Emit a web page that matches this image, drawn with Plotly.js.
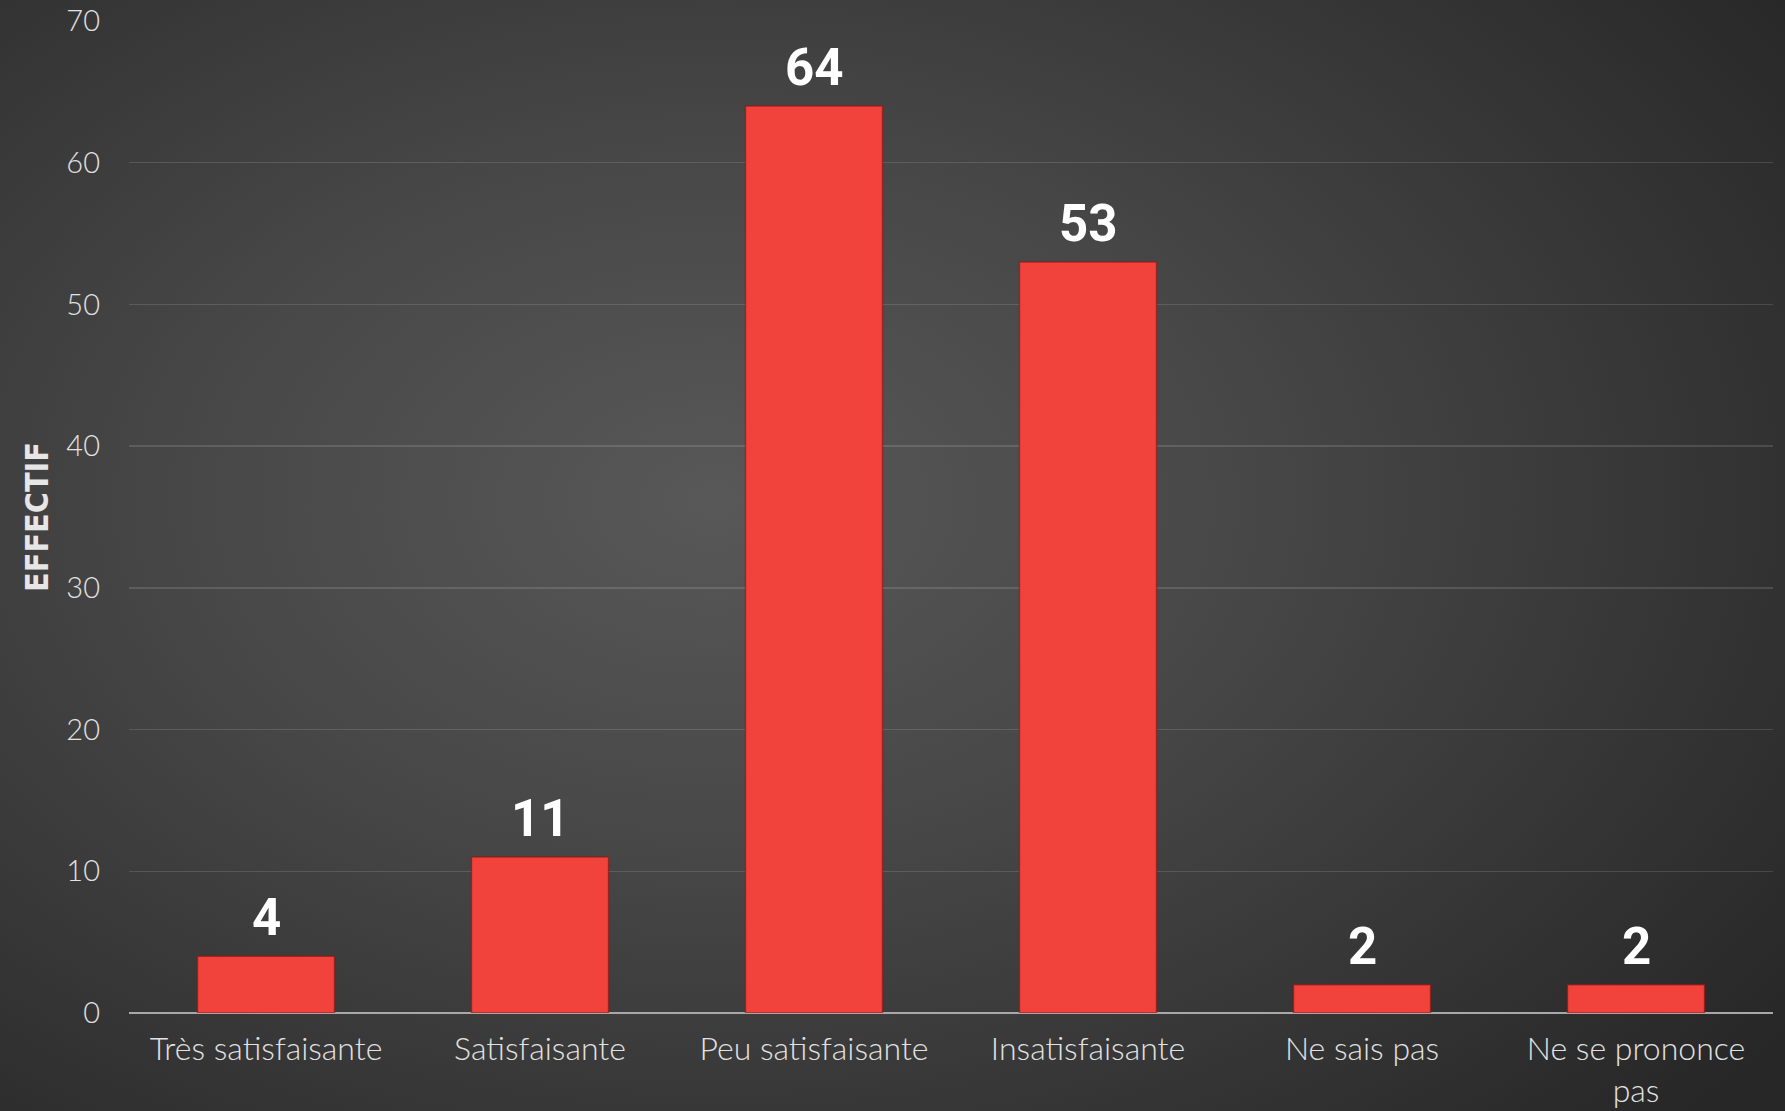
<!DOCTYPE html>
<html>
<head>
<meta charset="utf-8">
<script src="https://cdn.plot.ly/plotly-3.0.1.min.js"></script>
<style>
  html, body { margin: 0; padding: 0; }
  body {
    width: 1785px; height: 1111px; overflow: hidden;
    background: radial-gradient(ellipse 75% 80% at 40% 45%, #585858 0%, #474747 40%, #343434 75%, #272727 100%);
  }
  #chart { width: 1785px; height: 1111px; }
</style>
</head>
<body>
<div id="chart"></div>
<script>
const categories = ["Très satisfaisante", "Satisfaisante", "Peu satisfaisante", "Insatisfaisante", "Ne sais pas", "Ne se prononce pas"];
const tickLabels = ["Très satisfaisante", "Satisfaisante", "Peu satisfaisante", "Insatisfaisante", "Ne sais pas", "Ne se prononce<br>pas"];
const effectif = [4, 11, 64, 53, 2, 2];
const yTicks = [0, 10, 20, 30, 40, 50, 60, 70];
const yAxisTitle = "EFFECTIF";

const labelFont = "'Lato', 'Open Sans', 'DejaVu Sans', sans-serif";

const trace = {
  type: 'bar',
  x: categories,
  y: effectif,
  marker: {
    color: '#f2423c',
    line: { color: 'rgba(140,20,15,0.6)', width: 1.5 }
  },
  hoverinfo: 'x+y'
};

const annotations = categories.map((c, i) => ({
  x: c, y: effectif[i], xref: 'x', yref: 'y',
  text: String(effectif[i]),
  showarrow: false,
  yanchor: 'bottom',
  yshift: 7,
  font: { family: "'Roboto', 'DejaVu Sans', sans-serif", size: 51, color: '#ffffff', weight: 700 }
}));

const layout = {
  width: 1785, height: 1111,
  paper_bgcolor: 'rgba(0,0,0,0)',
  plot_bgcolor: 'rgba(0,0,0,0)',
  margin: { l: 129, r: 12, t: 21, b: 98 },
  bargap: 0.5,
  showlegend: false,
  xaxis: {
    type: 'category',
    tickvals: categories,
    ticktext: tickLabels,
    tickfont: { family: labelFont, size: 32, color: '#e2e2e2', weight: 300 },
    showgrid: false,
    showline: false,
    zeroline: false,
    ticks: '',
    ticklabelstandoff: 14
  },
  yaxis: {
    range: [0, 70],
    tickvals: yTicks,
    tickfont: { family: labelFont, size: 29, color: '#e2e2e2', weight: 300 },
    showgrid: true,
    gridcolor: 'rgba(255,255,255,0.13)',
    gridwidth: 1.5,
    zeroline: true,
    zerolinecolor: '#a8a8a8',
    zerolinewidth: 2.5,
    showline: false,
    ticks: '',
    ticklabelstandoff: 28,
    title: {
      text: yAxisTitle,
      font: { family: "'Liberation Sans Narrow', 'DejaVu Sans Condensed', 'Roboto', sans-serif", size: 32, color: '#e6e6e6', weight: 700 },
      standoff: 8
    }
  },
  annotations: annotations
};

Plotly.newPlot('chart', [trace], layout, { displayModeBar: false, staticPlot: true });
</script>
</body>
</html>
